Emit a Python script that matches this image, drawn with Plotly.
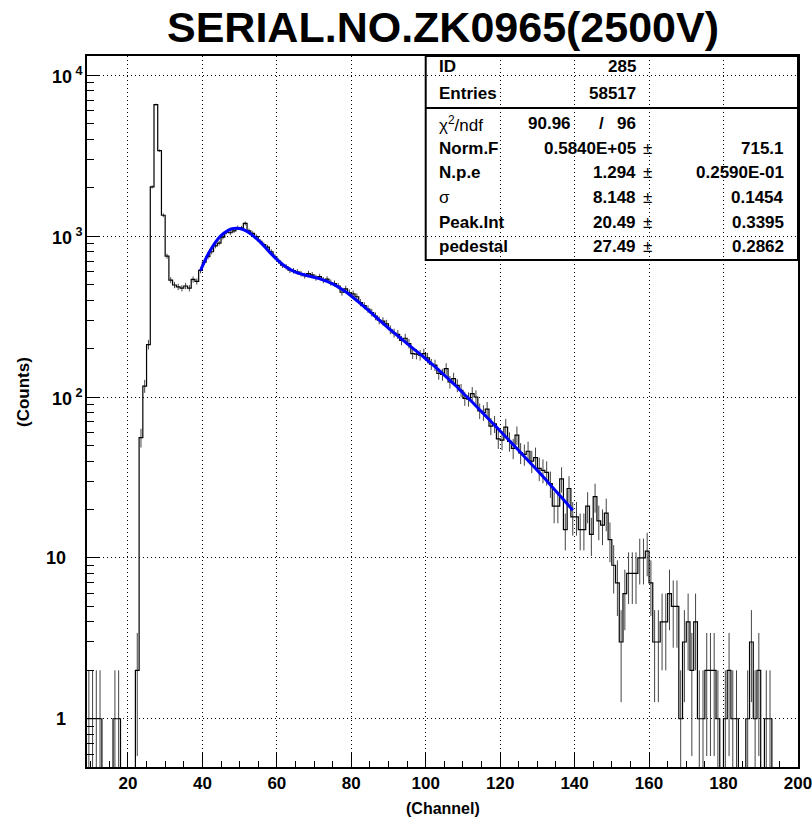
import math
import plotly.graph_objects as go

# ---------------- data ----------------
channels = list(range(9, 200))          # bin [c, c+1]
counts = [
    1, 1, 1, 1, 0, 0, 0, 1, 1, 0, 0, 0, 0, 2,                       # 9-22
    56, 117, 212, 2023, 6580, 3400, 1349, 751, 533, 497, 484, 475,  # 23-34
    490, 475, 538, 523, 612, 690,                                    # 35-40
    745, 800, 870, 905, 985, 1060, 1050, 1080, 1130, 1125,           # 41-50
    1200, 1080, 1040, 995, 930, 885, 855, 800, 745, 700,             # 51-60
    660, 645, 615, 610, 600, 585, 568, 585, 575, 552,                # 61-70
    560, 533, 540, 515, 508, 490, 448, 470, 445, 438,                # 71-80
    420, 386, 370, 352, 335, 318, 300, 296, 285, 262,                # 81-90
    250, 245, 225, 232, 215, 186, 185, 182, 186, 175,                # 91-100
    160, 158, 140, 138, 150, 124, 130, 118, 110, 98,                 # 101-110
    97, 105, 100, 82, 80, 84, 66, 68, 55, 54,                        # 111-120
    65, 53, 48, 58, 45, 44, 46, 40, 42, 36,                          # 121-130
    35, 34, 29, 21, 21, 31, 15, 27, 18, 18,                          # 131-140
    15, 15, 21, 14, 24, 17, 16, 19, 13, 9,                           # 141-150
    7, 3, 6, 8, 8, 8, 10, 10, 11, 7,                                 # 151-160
    3, 3, 4, 4, 6, 5, 5, 1, 3, 4,                                    # 161-170
    2, 4, 1, 1, 2, 2, 2, 1, 0, 1,                                    # 171-180
    2, 1, 1, 0, 0, 1, 3, 1, 2, 0,                                    # 181-190
    1, 1, 0, 0, 0, 0, 0, 0, 0,                                       # 191-199
]

fit_x = [39.5, 42, 45, 48, 50, 52, 55, 58, 60, 62, 65, 68, 70, 72, 75, 78, 80,
         82, 85, 88, 90, 92, 95, 98, 100, 102, 105, 108, 110, 112, 115, 118,
         120, 122, 125, 128, 130, 132, 135, 138, 139.5]
fit_y = [611, 809, 1009, 1113, 1116, 1071, 944, 799, 717, 655, 598, 570, 555,
         539, 505, 459, 425, 389, 339, 294, 268, 245, 215, 189, 173, 158, 137,
         118, 106, 95.5, 81.1, 68.7, 61.5, 55.0, 46.5, 39.2, 35.0, 31.1, 26.0,
         21.7, 19.8]

title_text = "SERIAL.NO.ZK0965(2500V)"
x_title = "(Channel)"
y_title = "(Counts)"
x_tick_vals = [20, 40, 60, 80, 100, 120, 140, 160, 180, 200]
y_tick_vals = [1, 10, 100, 1000, 10000]
y_tick_text = ["1", "10", "10", "10", "10"]
y_tick_pow = ["", "", "2", "3", "4"]

stats_labels = ["ID", "Entries", "χ<sup>2</sup>/ndf", "Norm.F", "N.p.e", "σ",
                "Peak.Int", "pedestal"]
stats_values = ["285", "58517", "96", "0.5840E+05", "1.294", "8.148", "20.49", "27.49"]
stats_errors = ["", "", "", "715.1", "0.2590E-01", "0.1454", "0.3395", "0.2862"]
chi2_value = "90.96"

# ---------------- geometry helpers ----------------
W, H = 812, 819
ML, MR, MT, MB = 87, 14, 56, 52
PW, PH = W - ML - MR, H - MT - MB
XR = [9, 200.02]
YR = [-0.30, 4.12]
FLOOR = 0.1  # draw empty bins below the axis floor


def py(ypx):
    """pixel row -> paper y"""
    return (H - MB - ypx) / PH


def px_x(xpx):
    """pixel column -> data x"""
    return XR[0] + (xpx - ML) / PW * (XR[1] - XR[0])


FONT = "Liberation Sans, Arial, sans-serif"

fig = go.Figure()

# error bars
ex, ey = [], []
for c, n in zip(channels, counts):
    if n > 0:
        e = math.sqrt(n)
        ex += [c + 0.5, c + 0.5, None]
        ey += [max(n - e, FLOOR), n + e, None]
fig.add_trace(go.Scatter(x=ex, y=ey, mode="lines",
                         line=dict(color="#444444", width=1),
                         hoverinfo="skip", showlegend=False))

# histogram contour
edges = channels + [channels[-1] + 1]
steps = [n if n > 0 else FLOOR for n in counts]
steps = steps + [steps[-1]]
fig.add_trace(go.Scatter(x=edges, y=steps, mode="lines", line_shape="hv",
                         line=dict(color="black", width=1.2),
                         showlegend=False))

# fit curve
fig.add_trace(go.Scatter(x=fit_x, y=fit_y, mode="lines", line_shape="spline",
                         line=dict(color="#0000ff", width=3), showlegend=False))

axis_common = dict(
    showline=True, linecolor="black", linewidth=2, mirror=True,
    ticks="inside", tickcolor="black", tickwidth=1,
    showgrid=True, gridcolor="black", gridwidth=1, griddash="1px,3px",
    zeroline=False, automargin=False,
)

fig.update_xaxes(
    range=XR, tickvals=x_tick_vals, ticklen=14, ticklabeloverflow="allow",
    tickfont=dict(family=FONT, size=17, color="black", weight="bold"),
    minor=dict(ticks="inside", ticklen=6, dtick=5, tick0=0, tickcolor="black",
               showgrid=False),
    **axis_common,
)

minor_y = [m * 10 ** d for d in range(-1, 5) for m in range(2, 10)]
fig.update_yaxes(
    type="log", range=YR, tickvals=y_tick_vals, ticklen=13,
    showticklabels=False,
    minor=dict(ticks="inside", ticklen=7, tickvals=minor_y, tickcolor="black",
               showgrid=False),
    **axis_common,
)

ann = []
# y tick labels
for v, t, p in zip(y_tick_vals, y_tick_text, y_tick_pow):
    yv = math.log10(v)
    if p:
        ann.append(dict(x=0, xref="paper", y=yv, yref="y", xshift=-37,
                        xanchor="left", yanchor="middle", showarrow=False,
                        text=f"{t}<sup> {p}</sup>",
                        font=dict(family=FONT, size=18, color="black", weight="bold")))
    else:
        ann.append(dict(x=0, xref="paper", y=yv, yref="y", xshift=-19,
                        xanchor="right", yanchor="middle", showarrow=False,
                        text=t,
                        font=dict(family=FONT, size=18, color="black", weight="bold")))

# axis titles
ann.append(dict(x=0.5, xref="paper", y=py(808), yref="paper", showarrow=False,
                xanchor="center", yanchor="middle", text=x_title,
                font=dict(family=FONT, size=16, color="black", weight="bold")))
ann.append(dict(x=0, xref="paper", y=py(392), yref="paper", showarrow=False,
                textangle=-90, xanchor="center", yanchor="middle", text=y_title,
                xshift=23 - ML,
                font=dict(family=FONT, size=17, color="black", weight="bold")))

# title
ann.append(dict(x=0.5, xref="paper", y=py(27), yref="paper", showarrow=False,
                xanchor="center", yanchor="middle", text=f"<b>{title_text}</b>",
                font=dict(family=FONT, size=43, color="black")))

# stats box
row_y = [66, 93, 124, 148, 172, 197, 222, 247]
box_top, box_bot, sep_y = 56, 260, 108
x_lab = px_x(437)
x_val = px_x(638)
x_pm = px_x(647)
x_err = px_x(786)
bold = dict(family=FONT, size=17, color="black", weight="bold")
normal = dict(family=FONT, size=17, color="black")
for i, (lab, val, err) in enumerate(zip(stats_labels, stats_values, stats_errors)):
    yy = py(row_y[i])
    ann.append(dict(x=x_lab, xref="x", y=yy, yref="paper", showarrow=False,
                    xanchor="left", yanchor="middle", text=lab,
                    font=normal if i in (2, 5) else bold))
    ann.append(dict(x=x_val, xref="x", y=yy, yref="paper", showarrow=False,
                    xanchor="right", yanchor="middle", text=val, font=bold))
    if i == 2:
        ann.append(dict(x=px_x(573), xref="x", y=yy, yref="paper", showarrow=False,
                        xanchor="right", yanchor="middle", text=chi2_value, font=bold))
        ann.append(dict(x=px_x(601), xref="x", y=yy, yref="paper", showarrow=False,
                        xanchor="center", yanchor="middle", text="/", font=bold))
    if err:
        ann.append(dict(x=x_pm, xref="x", y=yy, yref="paper", showarrow=False,
                        xanchor="center", yanchor="middle", text="±", font=normal))
        ann.append(dict(x=x_err, xref="x", y=yy, yref="paper", showarrow=False,
                        xanchor="right", yanchor="middle", text=err, font=bold))

shapes = [
    dict(type="rect", xref="x", yref="paper", x0=100, x1=XR[1],
         y0=py(box_bot), y1=py(box_top), line=dict(color="black", width=2)),
    dict(type="line", xref="x", yref="paper", x0=100, x1=XR[1],
         y0=py(sep_y), y1=py(sep_y), line=dict(color="black", width=2)),
]

fig.update_layout(
    width=W, height=H,
    margin=dict(l=ML, r=MR, t=MT, b=MB, autoexpand=False),
    paper_bgcolor="white", plot_bgcolor="white",
    annotations=ann, shapes=shapes, showlegend=False,
)

fig.write_html("out.html")
